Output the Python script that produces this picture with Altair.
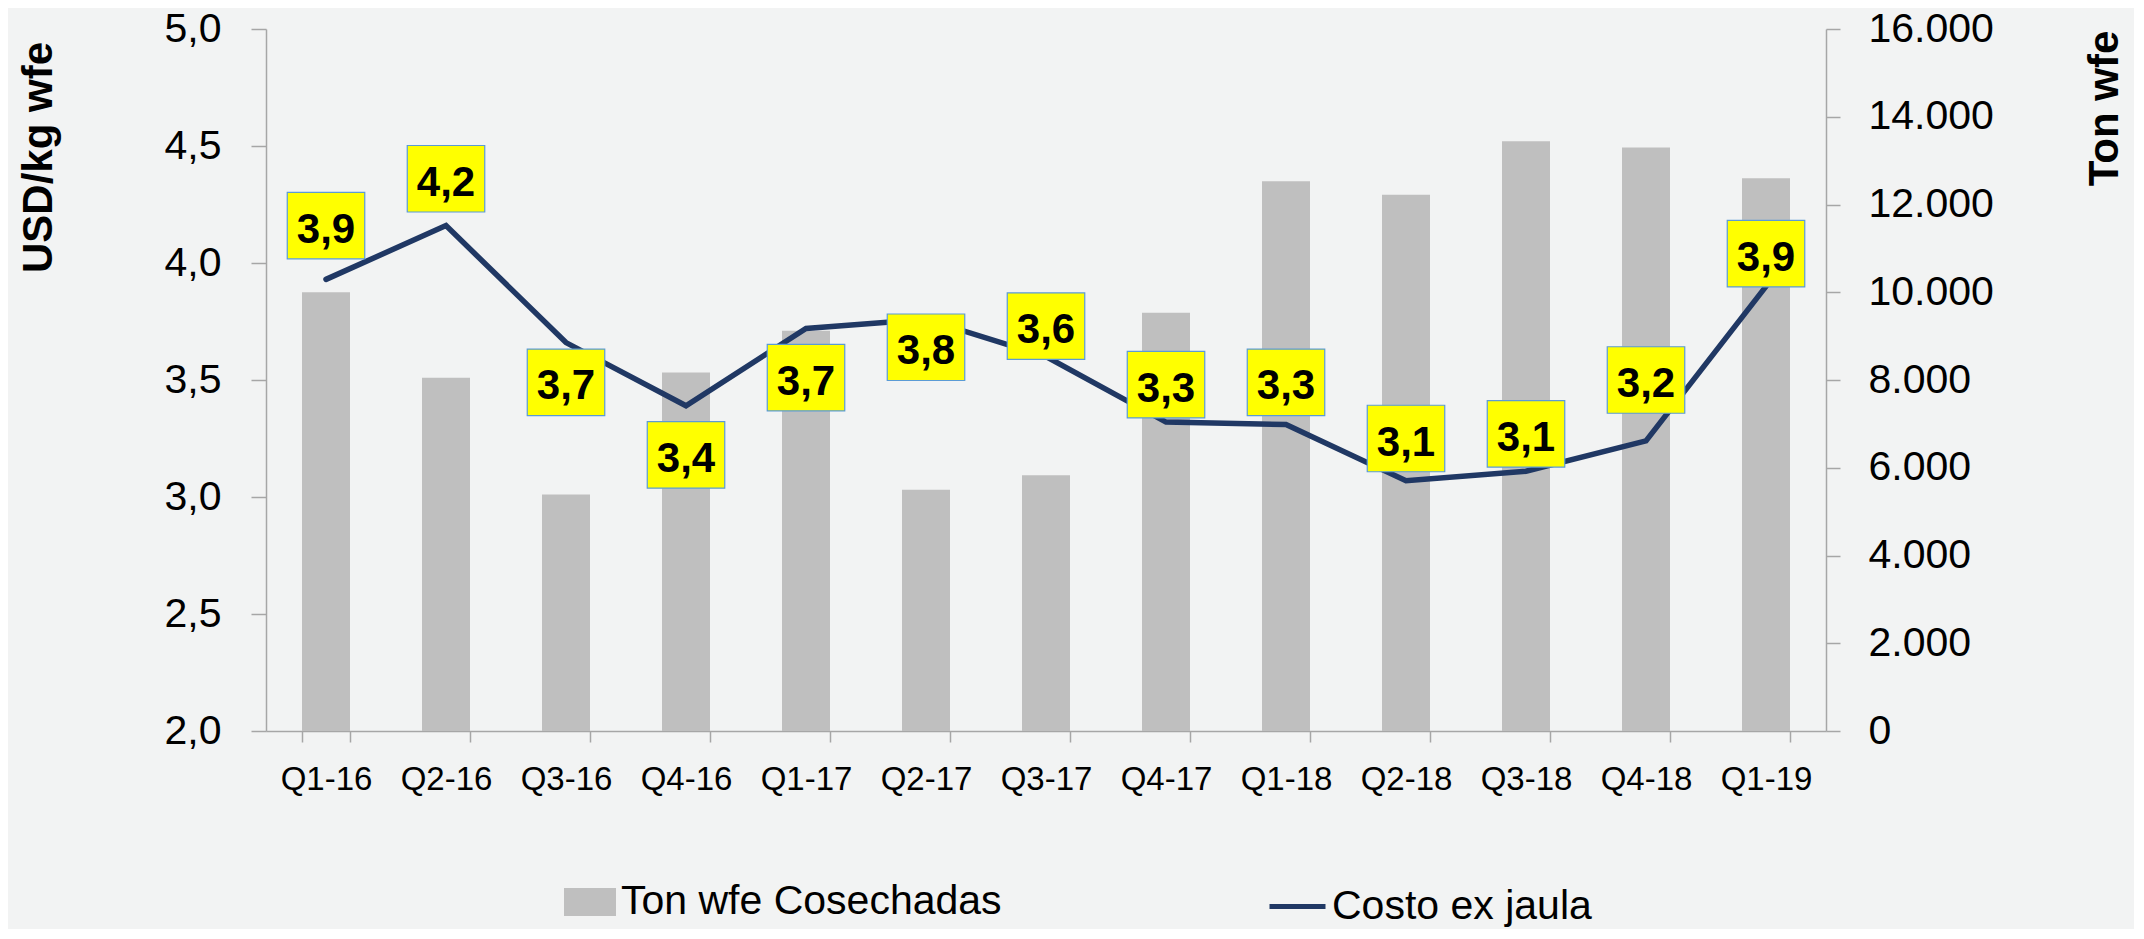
import altair as alt
import pandas as pd

# ---- data ----
quarters = ["Q1-16", "Q2-16", "Q3-16", "Q4-16", "Q1-17", "Q2-17", "Q3-17",
            "Q4-17", "Q1-18", "Q2-18", "Q3-18", "Q4-18", "Q1-19"]
ton_wfe = [10000, 8050, 5390, 8170, 9120, 5500, 5830,
           9530, 12530, 12220, 13440, 13300, 12600]
costo = [3.93, 4.16, 3.66, 3.39, 3.72, 3.76, 3.60,
         3.32, 3.31, 3.07, 3.11, 3.24, 3.90]
# where each data label box sits (in USD/kg units of the left axis)
label_pos = [4.16, 4.36, 3.49, 3.18, 3.51, 3.64, 3.73,
             3.48, 3.49, 3.25, 3.27, 3.50, 4.04]
series_names = ["Ton wfe Cosechadas", "Costo ex jaula"]

labels = [f"{v:.1f}".replace(".", ",") for v in costo]

df = pd.DataFrame({
    "quarter": quarters,
    "ton": ton_wfe,
    "costo": costo,
    "label_pos": label_pos,
    "label": labels,
    "serie_bar": series_names[0],
    "serie_line": series_names[1],
})

FONT = "Liberation Sans"
AX = "#A6A6A6"
BAR = "#BFBFBF"
LINE = "#203864"
BOX_PATH = "M-1,-0.858L1,-0.858L1,0.858L-1,0.858Z"
LEG_RECT = "M-1,-0.54L1,-0.54L1,0.54L-1,0.54Z"

x_enc = alt.X(
    "quarter:N", sort=quarters,
    scale=alt.Scale(paddingInner=0.6, paddingOuter=0.3),
    axis=alt.Axis(title=None, labelAngle=0, tickBand="extent",
                  labelFont=FONT, labelFontSize=33, labelColor="#000000",
                  labelPadding=21, tickSize=11, tickColor=AX, tickWidth=1.5,
                  domainColor=AX, domainWidth=1.5),
)

left_axis = alt.Axis(orient="left", values=[2, 2.5, 3, 3.5, 4, 4.5, 5],
                     labelExpr="replace(format(datum.value, '.1f'), '.', ',')",
                     grid=False, labelFont=FONT, labelFontSize=41,
                     labelColor="#000000", labelPadding=30,
                     tickSize=15, tickColor=AX, tickWidth=1.5,
                     domainColor=AX, domainWidth=1.5,
                     title="USD/kg wfe", titleFont=FONT, titleFontSize=42,
                     titleFontWeight="bold", titleColor="#000000",
                     titleAngle=270, titleAlign="center",
                     titleBaseline="alphabetic", titleX=-215, titleY=128)
left_scale = alt.Scale(domain=[2, 5], zero=False)

bars = alt.Chart(df).mark_bar().encode(
    x=x_enc,
    y=alt.Y("ton:Q", scale=alt.Scale(domain=[0, 16000]),
            axis=alt.Axis(orient="right", values=list(range(0, 16001, 2000)),
                          labelExpr="replace(format(datum.value, ',.0f'), ',', '.')",
                          grid=False, labelFont=FONT, labelFontSize=41,
                          labelColor="#000000", labelPadding=28,
                          tickSize=14, tickColor=AX, tickWidth=1.5,
                          domainColor=AX, domainWidth=1.5,
                          title="Ton wfe", titleFont=FONT, titleFontSize=42,
                          titleFontWeight="bold", titleColor="#000000",
                          titleAngle=270, titleAlign="center",
                          titleBaseline="alphabetic", titleX=291, titleY=79)),
    fill=alt.Fill("serie_bar:N", scale=alt.Scale(domain=[series_names[0]], range=[BAR]),
                  legend=alt.Legend(title=None, orient="none", legendX=298, legendY=847,
                                    padding=0, symbolType=LEG_RECT, symbolSize=2704,
                                    symbolStrokeWidth=0, labelFont=FONT,
                                    labelFontSize=41, labelColor="#000000",
                                    labelOffset=5, labelLimit=1000)),
)

line = alt.Chart(df).mark_line(strokeWidth=5.5, strokeCap="round").encode(
    x=x_enc,
    y=alt.Y("costo:Q", scale=left_scale, axis=left_axis),
    stroke=alt.Stroke("serie_line:N", scale=alt.Scale(domain=[series_names[1]], range=[LINE]),
                      legend=alt.Legend(title=None, orient="none", legendX=1001, legendY=847,
                                        padding=0, symbolType="stroke", symbolSize=3136,
                                        symbolStrokeWidth=5, labelFont=FONT,
                                        labelFontSize=41, labelColor="#000000",
                                        labelOffset=4, labelLimit=1000)),
)

boxes = alt.Chart(df).mark_point(
    shape=BOX_PATH, size=6006, filled=True, fill="#FFFF00", fillOpacity=1,
    stroke="#5B9BD5", strokeWidth=1.2, strokeOpacity=1, opacity=1,
).encode(
    x=x_enc,
    y=alt.Y("label_pos:Q", scale=left_scale, axis=left_axis),
)

texts = alt.Chart(df).mark_text(
    font=FONT, fontSize=42, fontWeight="bold", color="#000000",
    baseline="middle", align="center", dy=4,
).encode(
    x=x_enc,
    y=alt.Y("label_pos:Q", scale=left_scale, axis=left_axis),
    text="label:N",
)

inner = alt.layer(line, boxes, texts)

chart = alt.layer(bars, inner).resolve_scale(y="independent").properties(
    width=1560, height=702,
    background="#f2f3f3",
    padding={"left": 258, "top": 21, "right": 308, "bottom": 198},
    autosize=alt.AutoSizeParams(type="none"),
).configure_view(strokeWidth=0)

chart.save("out.html", embed_options={"renderer": "svg", "actions": False})
